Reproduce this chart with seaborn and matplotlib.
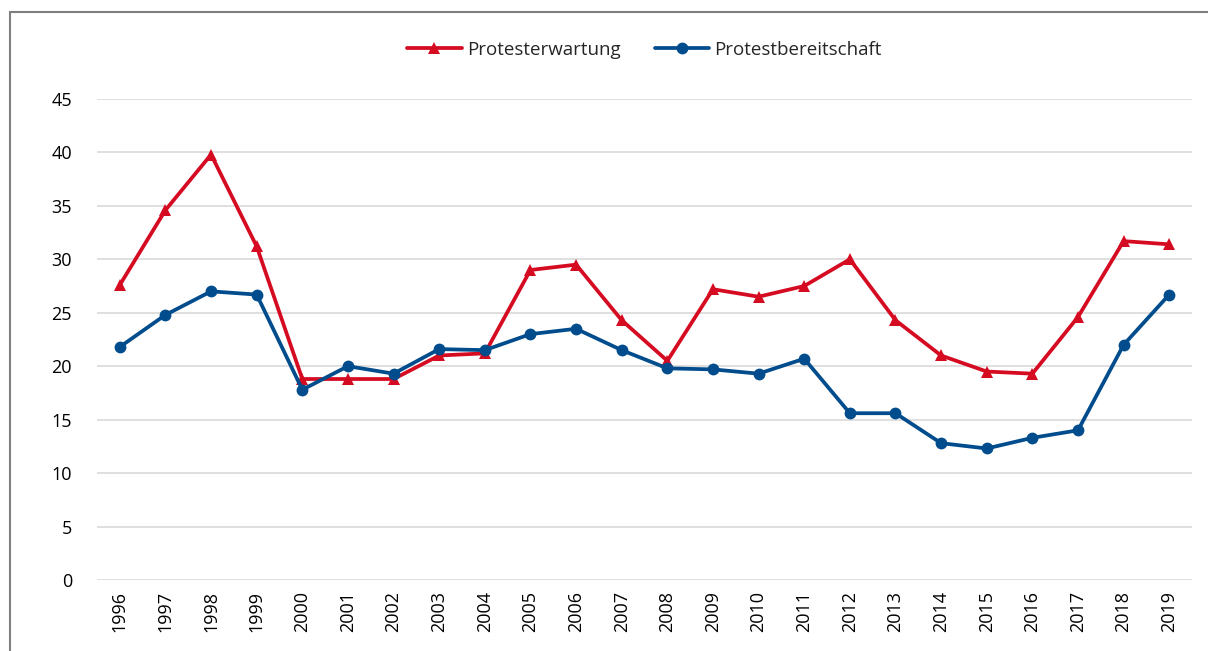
import pandas as pd
import matplotlib.pyplot as plt
import seaborn as sns
from matplotlib.patches import Rectangle

# Data
years = [str(y) for y in range(1996, 2020)]
protesterwartung = [27.6, 34.6, 39.8, 31.2, 18.8, 18.8, 18.8, 21.0, 21.2, 29.0, 29.5, 24.3,
                    20.5, 27.2, 26.5, 27.5, 30.0, 24.3, 21.0, 19.5, 19.3, 24.6, 31.7, 31.4]
protestbereitschaft = [21.8, 24.8, 27.0, 26.7, 17.8, 20.0, 19.3, 21.6, 21.5, 23.0, 23.5, 21.5,
                       19.8, 19.7, 19.3, 20.7, 15.6, 15.6, 12.8, 12.3, 13.3, 14.0, 22.0, 26.7]
series_names = ["Protesterwartung", "Protestbereitschaft"]
y_ticks = [0, 5, 10, 15, 20, 25, 30, 35, 40, 45]

colors = {"Protesterwartung": "#D50B22", "Protestbereitschaft": "#004C8C"}
markers = {"Protesterwartung": "^", "Protestbereitschaft": "o"}

df = pd.DataFrame({"Jahr": years,
                   series_names[0]: protesterwartung,
                   series_names[1]: protestbereitschaft})
df_long = df.melt(id_vars="Jahr", var_name="Reihe", value_name="Wert")

sns.set_style("white")
plt.rcParams['font.family'] = ['Open Sans', 'DejaVu Sans']

fig = plt.figure(figsize=(12.08, 6.51), dpi=100)
ax = fig.add_axes([0.0803, 0.1091, 0.9065, 0.7389])

sns.lineplot(data=df_long, x="Jahr", y="Wert", hue="Reihe", style="Reihe",
             palette=colors, markers=markers, dashes=False, linewidth=2.7,
             markersize=8.5, markeredgewidth=0, ax=ax, sort=False)

ax.set_xlim(-0.5, len(years) - 0.5)
ax.set_ylim(0, 45)
ax.set_yticks(y_ticks)
ax.yaxis.grid(True, color="#D9D9D9", linewidth=1.2)
ax.set_axisbelow(True)
for s in ax.spines.values():
    s.set_visible(False)
ax.set_xlabel("")
ax.set_ylabel("")
ax.tick_params(axis="y", labelsize=13, length=0, pad=18, colors="#000000")
ax.tick_params(axis="x", labelsize=13, length=0, pad=8, rotation=90, colors="#000000")

handles, labels = ax.get_legend_handles_labels()
ax.legend(handles, labels, loc="center", bbox_to_anchor=(0.5, 1.102), ncol=2,
          frameon=False, fontsize=13.5, handlelength=2.9, handletextpad=0.3,
          columnspacing=1.8)

# Frame around the chart area (cut off at right and bottom in the original)
fig.patches.append(Rectangle((10 / 1208, -0.05), 1.05, 0.05 + 1 - 12 / 651,
                             transform=fig.transFigure, fill=False,
                             edgecolor="#7F7F7F", linewidth=1.5))

fig.savefig("out.png", dpi=100)
